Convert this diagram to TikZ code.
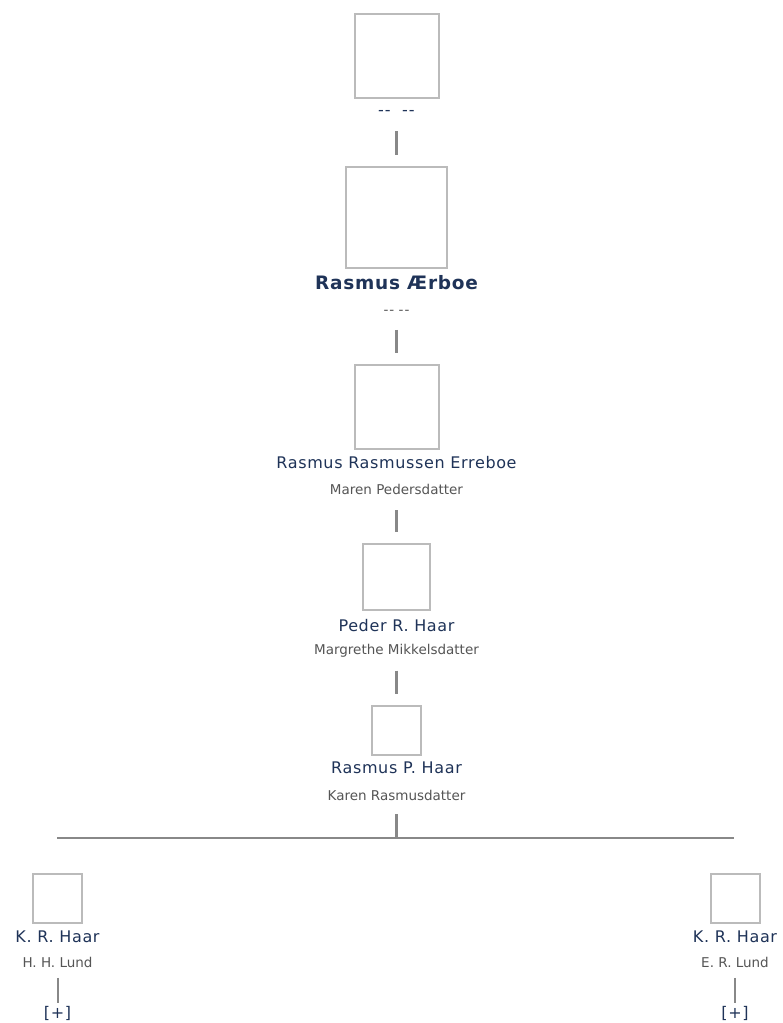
\documentclass[tikz,border=0pt]{standalone}
\usepackage{fontspec}
\setmainfont{DejaVu Sans}[Ligatures=TeXOff]
\newfontfamily\namefont{DejaVu Sans}[Ligatures=TeXOff, LetterSpace=4]
\usetikzlibrary{positioning}
\definecolor{navy}{HTML}{1F3358}
\definecolor{greytext}{HTML}{555555}
\definecolor{framegrey}{HTML}{BBBBBB}
\definecolor{linegrey}{HTML}{888888}
\tikzset{
  photo/.style = {draw=framegrey, line width=2pt, fill=white, inner sep=0pt, minimum size=#1},
  person/.style = {inner sep=0pt, text=navy, text height=12pt, text depth=3.5pt,
                   font=\namefont\fontsize{16}{19}\selectfont},
  boldperson/.style = {person, text height=14pt, font=\namefont\bfseries\fontsize{18.5}{22}\selectfont},
  partner/.style = {inner sep=0pt, text=greytext, text height=10pt, text depth=3pt,
                    font=\fontsize{13.5}{16}\selectfont},
  link/.style = {draw=linegrey, line width=3pt, shorten <=12.5pt, shorten >=11pt},
  bus/.style = {draw=linegrey, line width=2pt},
  stem/.style = {draw=linegrey, line width=2pt, shorten <=7pt, shorten >=3pt},
}

\begin{document}
\begin{tikzpicture}[x=1pt, y=-1pt]
    \fill [white] (0,0) rectangle (782,1023);
    \useasboundingbox (0,0) rectangle (782,1023);

    % line of ancestors
    \node [photo=84pt] (b1) at (396.5,56) {};
    \node [person, below=4pt of b1] (n1) {-\kern1pt-\ \ -\kern1pt-};

    \node [photo=101pt] (b2) at (396.5,217.5) {};
    \node [boldperson, below=6pt of b2] (n2) {Rasmus Ærboe};
    \node [partner, below=11pt of n2] (sp2) {-\kern1pt- -\kern1pt-};

    \node [photo=84pt] (b3) at (396.5,407) {};
    \node [person, below=6pt of b3] (n3) {Rasmus Rasmussen Erreboe};
    \node [partner, below=12.5pt of n3] (sp3) {Maren Pedersdatter};

    \node [photo=66.5pt] (b4) at (396.5,577) {};
    \node [person, below=8pt of b4] (n4) {Peder R. Haar};
    \node [partner, below=9.5pt of n4] (sp4) {Margrethe Mikkelsdatter};

    \node [photo=49pt] (b5) at (396.5,730) {};
    \node [person, below=6pt of b5] (n5) {Rasmus P. Haar};
    \node [partner, below=12.5pt of n5] (sp5) {Karen Rasmusdatter};

    % children
    \node [photo=49pt] (c1) at (57.5,898.5) {};
    \node [person, below=6pt of c1] (cn1) {K. R. Haar};
    \node [partner, below=11.5pt of cn1] (csp1) {H. H. Lund};
    \node [person, below=35pt of csp1] (more1) {[+]};

    \node [photo=49pt] (c2) at (735,898.5) {};
    \node [person, below=6pt of c2] (cn2) {K. R. Haar};
    \node [partner, below=11.5pt of cn2] (csp2) {E. R. Lund};
    \node [person, below=35pt of csp2] (more2) {[+]};

    \coordinate (bar) at (396.5,838);
    \coordinate (barL) at (57,838);
    \coordinate (barR) at (734,838);

    \draw [link] (n1) -- (b2);
    \draw [link] (sp2) -- (b3);
    \draw [link] (sp3) -- (b4);
    \draw [link] (sp4) -- (b5);
    \draw [link, shorten <=11pt, shorten >=0pt] (sp5) -- (bar);
    \draw [bus] (barL) -- (barR);
    \draw [stem] (csp1) -- (more1);
    \draw [stem] (csp2) -- (more2);
\end{tikzpicture}
\end{document}
